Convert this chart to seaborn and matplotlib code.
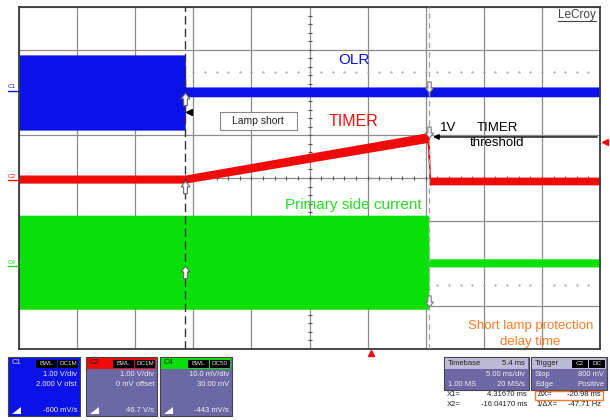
import numpy as np
import pandas as pd
import seaborn as sns
import matplotlib.pyplot as plt
from matplotlib.patches import Rectangle
from matplotlib.lines import Line2D

olr_t = [0.0, 2.86, 2.87, 10.0]
olr_hi = [2.88, 2.88, 2.13, 2.13]
olr_lo = [1.12, 1.12, 1.90, 1.90]

timer_t = [0.0, 2.86, 7.03, 7.06, 7.08, 10.0]
timer_hi = [0.07, 0.07, 1.06, 1.00, 0.02, 0.02]
timer_lo = [-0.12, -0.12, 0.83, -0.18, -0.16, -0.16]

cur_t = [0.0, 7.05, 7.06, 10.0]
cur_hi = [-0.87, -0.87, -1.89, -1.89]
cur_lo = [-3.07, -3.07, -2.08, -2.08]

cursor_x = [2.86, 7.05]

c1_lines = ["1.00 V/div", "2.000 V ofst", "-600 mV/s"]
c2_lines = ["1.00 V/div", "0 mV offset", "46.7 V/s"]
c4_lines = ["10.0 mV/div", "30.00 mV", "-443 mV/s"]

BLUE = "#0a12e8"
RED = "#f00a0a"
GREEN = "#08e008"
ORANGE = "#ff7a2a"
PANEL = "#6c68a6"

sns.set_theme(style="white")
plt.rcParams["font.family"] = ["Liberation Sans", "DejaVu Sans"]

W, H = 610, 420
fig = plt.figure(figsize=(W / 100, H / 100), dpi=100)
ax = fig.add_axes([19 / W, 1 - 349 / H, 581 / W, 342 / H])
ax.set_xlim(0, 10)
ax.set_ylim(-4, 4)
ax.set_xticks(range(11))
ax.set_yticks(range(-4, 5))
ax.set_xticklabels([])
ax.set_yticklabels([])
ax.tick_params(length=0)
ax.grid(True, color="#8c8c8c", lw=0.9)
ax.set_axisbelow(True)
for s in ax.spines.values():
    s.set_color("#3a3a3a")
    s.set_linewidth(1.3)

# centre cross ticks
ax.plot(np.arange(0.2, 10, 0.2), np.zeros(49), ls="none", marker="|", ms=3, color="#555", mew=0.8, zorder=1)
ax.plot(np.full(39, 5.0), np.arange(-3.8, 4, 0.2), ls="none", marker="_", ms=3, color="#555", mew=0.8, zorder=1)

# dotted reference levels
ax.plot(np.arange(3.0, 10, 0.2), np.full(35, 2.48), ls="none", marker=".", ms=1.3, color="#aaa", zorder=1)
ax.plot(np.arange(7.2, 10, 0.2), np.full(14, -2.5), ls="none", marker=".", ms=1.3, color="#aaa", zorder=1)


def trace(t, lo, hi, color):
    df = pd.DataFrame({"t": list(t) * 2, "v": list(lo) + list(hi)})
    sns.lineplot(data=df, x="t", y="v", estimator="mean", errorbar=("pi", 100),
                 color=color, lw=0.6, err_kws={"alpha": 1, "linewidth": 0},
                 ax=ax, legend=False, zorder=3)


trace(olr_t, olr_lo, olr_hi, BLUE)
trace(timer_t, timer_lo, timer_hi, RED)
trace(cur_t, cur_lo, cur_hi, GREEN)
ax.set_xlabel("")
ax.set_ylabel("")

# cursors
ax.axvline(cursor_x[0], color="#333333", lw=1.0, ls=(0, (6, 3)), zorder=4)
ax.axvline(cursor_x[1], color="#a8a8a8", lw=1.0, ls=(0, (4, 3)), zorder=4)

up = [(0, 1), (-0.7, 0.1), (-0.3, 0.1), (-0.3, -1), (0.3, -1), (0.3, 0.1), (0.7, 0.1), (0, 1)]
down = [(x, -y) for x, y in up]
ax.plot([cursor_x[0]] * 3, [1.85, -0.21, -2.2], ls="none", marker=up, ms=9,
        mfc="white", mec="#666", mew=0.8, zorder=5)
ax.plot([cursor_x[1]] * 3, [2.13, 1.08, -2.88], ls="none", marker=down, ms=8,
        mfc="white", mec="#777", mew=0.8, zorder=5)
ax.plot(2.92, 1.54, marker="<", ms=4, color="black", zorder=5)

# trigger markers
ax.plot(6.06, -4.1, marker="^", ms=5, color=RED, clip_on=False, zorder=6)
ax.plot(10.08, 0.84, marker="<", ms=5, color=RED, clip_on=False, zorder=6)

# annotations
ax.text(5.77, 2.76, "OLR", color=BLUE, fontsize=11, ha="center", va="center", zorder=6)
ax.text(5.75, 1.31, "TIMER", color=RED, fontsize=11.5, ha="center", va="center", zorder=6)
ax.text(5.75, -0.63, "Primary side current", color="#22e022", fontsize=11, ha="center", va="center", zorder=6)
ax.text(8.8, -3.47, "Short lamp protection", color=ORANGE, fontsize=9.5, ha="center", va="center", zorder=6)
ax.text(8.8, -3.83, "delay time", color=ORANGE, fontsize=9.5, ha="center", va="center", zorder=6)
ax.text(7.38, 1.17, "1V", color="black", fontsize=9.5, ha="center", va="center", zorder=6)
ax.text(8.23, 1.17, "TIMER", color="black", fontsize=9.5, ha="center", va="center", zorder=6)
ax.text(8.23, 0.82, "threshold", color="black", fontsize=9.5, ha="center", va="center", zorder=6)
ax.annotate("", xy=(7.08, 0.96), xytext=(10.0, 0.96),
            arrowprops=dict(arrowstyle="-|>", color="black", lw=1.0, mutation_scale=8), zorder=6)

ax.add_patch(Rectangle((3.48, 1.1), 1.32, 0.42, fc="#9a9a9a", ec="none", zorder=5))
ax.add_patch(Rectangle((3.46, 1.13), 1.32, 0.42, fc="white", ec="#888", lw=0.8, zorder=5))
ax.text(4.12, 1.34, "Lamp short", fontsize=7.5, color="#222", ha="center", va="center", zorder=6)

ax.text(9.6, 3.81, "LeCroy", fontsize=8.5, color="#444", ha="center", va="center", zorder=6)
ax.plot([9.28, 9.93], [3.67, 3.67], color="#444", lw=0.8, zorder=6)


# ---- scope info panels (pixel helpers) ----
def prect(x0, y0, x1, y1, **kw):
    fig.add_artist(Rectangle((x0 / W, 1 - y1 / H), (x1 - x0) / W, (y1 - y0) / H,
                             transform=fig.transFigure, **kw))


def ptext(x, y, s, **kw):
    kw.setdefault("fontsize", 5.5)
    kw.setdefault("va", "center")
    fig.text(x / W, 1 - y / H, s, **kw)


def pline(xs, ys, **kw):
    fig.add_artist(Line2D([x / W for x in xs], [1 - y / H for y in ys], transform=fig.transFigure, **kw))


# channel markers at left edge
ptext(12, 86, "C1", color=BLUE, fontsize=4.5, ha="center")
pline([8, 18], [91, 91], color=BLUE, lw=1)
ptext(12, 176, "C2", color=RED, fontsize=4.5, ha="center")
pline([8, 18], [180, 180], color=RED, lw=1)
ptext(12, 262, "C4", color=GREEN, fontsize=4.5, ha="center")
pline([8, 18], [266, 266], color=GREEN, lw=1)


def chan_box(x0, x1, name, head, labels, lines, body):
    prect(x0, 357, x1, 416, fc=body, ec="#444", lw=0.8)
    prect(x0 + 1, 358, x1 - 1, 369, fc=head, ec="none")
    ptext(x0 + 4, 363, name, color="#ddd" if head == BLUE else "#222", ha="left")
    prect(x1 - 44, 359.5, x1 - 23, 367.5, fc="black", ec="none")
    prect(x1 - 22, 359.5, x1 - 2, 367.5, fc="black", ec="none")
    ptext(x1 - 33.5, 363.5, labels[0], color="#ddd", ha="center", fontsize=4.5)
    ptext(x1 - 12, 363.5, labels[1], color="#ddd", ha="center", fontsize=4.5)
    ptext(x1 - 3, 375, lines[0], color="#eee", ha="right")
    ptext(x1 - 3, 384, lines[1], color="#eee", ha="right")
    ptext(x1 - 3, 411, lines[2], color="#eee", ha="right")
    fig.add_artist(plt.Polygon([((x0 + 4) / W, 1 - 414 / H), ((x0 + 13) / W, 1 - 414 / H),
                                ((x0 + 13) / W, 1 - 407 / H)], closed=True,
                               transform=fig.transFigure, fc="white", ec="none"))


chan_box(8, 80, "C1", BLUE, ["BWL", "DC1M"], c1_lines, BLUE)
chan_box(86, 157, "C2", RED, ["BWL", "DC1M"], c2_lines, PANEL)
chan_box(160, 232, "C4", GREEN, ["BWL", "DC50"], c4_lines, PANEL)

# timebase
prect(444, 357, 529, 390, fc=PANEL, ec="#444", lw=0.8)
prect(445, 358, 528, 369, fc="#bdbad8", ec="none")
ptext(448, 363.5, "Timebase", color="#222", ha="left")
ptext(525, 363.5, "5.4 ms", color="#222", ha="right")
ptext(525, 374.5, "5.00 ms/div", color="#eee", ha="right")
ptext(448, 384, "1.00 MS", color="#eee", ha="left")
ptext(525, 384, "20 MS/s", color="#eee", ha="right")

# trigger
prect(531, 357, 607, 390, fc=PANEL, ec="#444", lw=0.8)
prect(532, 358, 606, 369, fc="#bdbad8", ec="none")
ptext(535, 363.5, "Trigger", color="#222", ha="left")
prect(572, 359.5, 588, 367.5, fc="black", ec="none")
prect(589, 359.5, 605, 367.5, fc="black", ec="none")
ptext(580, 363.5, "C2", color="#ddd", ha="center", fontsize=4.5)
ptext(597, 363.5, "DC", color="#ddd", ha="center", fontsize=4.5)
ptext(535, 374.5, "Stop", color="#eee", ha="left")
ptext(604, 374.5, "800 mV", color="#eee", ha="right")
ptext(535, 384, "Edge", color="#eee", ha="left")
ptext(604, 384, "Positive", color="#eee", ha="right")

# cursor readouts
ptext(447, 395, "X1=", color="#222", ha="left")
ptext(527, 395, "4.31670 ms", color="#222", ha="right")
ptext(447, 404, "X2=", color="#222", ha="left")
ptext(527, 404, "-16.04170 ms", color="#222", ha="right")
prect(535, 390.5, 603, 400, fc="none", ec=ORANGE, lw=1.0)
ptext(538, 395, "\u0394X=", color="#222", ha="left")
ptext(601, 395, "-20.98 ms", color="#222", ha="right")
ptext(536, 404, "1/\u0394X=", color="#222", ha="left")
ptext(601, 404, "-47.71 Hz", color="#222", ha="right")

fig.savefig("out.png", dpi=100)
